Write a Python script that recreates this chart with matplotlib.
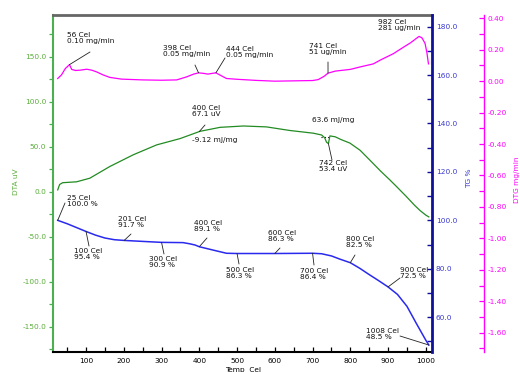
import numpy as np
import matplotlib
matplotlib.use("Agg")
import matplotlib.pyplot as plt
from matplotlib.ticker import MultipleLocator, FormatStrFormatter, FuncFormatter

# ---------------- data ----------------
dta_t = [25, 30, 38, 75, 110, 163, 225, 287, 349, 402, 455, 517, 578, 640, 702, 724,
         732, 737, 742, 746, 760, 775, 799, 826, 852, 880, 905, 923, 949, 970, 985, 1000, 1008]
dta_v = [2, 8, 10, 11, 15, 28, 41, 52, 59, 67.1, 71.5, 73, 72, 68, 65, 63,
         60, 55, 53.4, 62, 61, 58, 54, 46, 35, 23, 13, 5.5, -5.6, -15, -21, -26, -28]

tg_t = [25, 50, 75, 100, 125, 150, 175, 201, 250, 300, 357, 375, 389, 400, 437, 472,
        500, 600, 700, 724, 750, 772, 800, 825, 850, 875, 900, 925, 950, 975, 1000, 1008]
tg_v = [100, 98.6, 97.0, 95.4, 93.9, 92.7, 92.0, 91.7, 91.3, 90.9, 90.8, 90.3, 89.8, 89.1, 87.7, 86.4,
        86.3, 86.3, 86.4, 86.2, 85.3, 84.0, 82.5, 80.2, 77.6, 75.1, 72.5, 69.4, 64.5, 57.4, 50.5, 48.5]

dtg_t = [25, 35, 45, 56, 62, 72, 84, 102, 115, 128, 145, 163, 194, 250, 300, 340, 366,
         385, 398, 410, 423, 435, 444, 458, 472, 500, 550, 600, 650, 700, 715, 730, 741,
         760, 800, 825, 861, 880, 914, 940, 960, 982, 990, 998, 1003, 1007]
dtg_v = [0.017, 0.04, 0.08, 0.105, 0.075, 0.068, 0.07, 0.076, 0.07, 0.059, 0.04, 0.024, 0.013,
         0.008, 0.006, 0.008, 0.027, 0.045, 0.053, 0.05, 0.045, 0.05, 0.053, 0.035, 0.017,
         0.012, 0.005, 0.0, 0.002, 0.004, 0.01, 0.03, 0.051, 0.064, 0.075, 0.09, 0.11, 0.135,
         0.175, 0.215, 0.245, 0.285, 0.275, 0.24, 0.18, 0.11]

# annotation labels (temperature, value)
tg_marks = [(25, 100.0), (100, 95.4), (201, 91.7), (300, 90.9), (400, 89.1), (500, 86.3),
            (600, 86.3), (700, 86.4), (800, 82.5), (900, 72.5), (1008, 48.5)]
dtg_marks = [(56, 0.10, "0.10 mg/min"), (398, 0.05, "0.05 mg/min"), (444, 0.05, "0.05 mg/min"),
             (741, 0.051, "51 ug/min"), (982, 0.281, "281 ug/min")]
dta_marks = [(400, 67.1, "67.1 uV"), (742, 53.4, "53.4 uV")]

# ---------------- style ----------------
W, H = 520, 372
FS = 5.3
GREEN_L = "#228b22"
GREEN_T = "#5aae3a"
GREEN_S = "#4caf50"
BLUE_L = "#2a2aee"
BLUE_T = "#3a3ad0"
BLUE_S = "#10109a"
MAG = "#ff00ff"

plt.rcParams['font.family'] = ['DejaVu Sans']
fig = plt.figure(figsize=(W / 100, H / 100), dpi=100)
L, R, T, B = 52.7, 431.7, 15, 352.3
ax = fig.add_axes([L / W, 1 - B / H, (R - L) / W, (B - T) / H])
ax2 = ax.twinx()
ax3 = ax.twinx()

ax.set_xlim(11.7, 1015.6)
ax.set_ylim(-178.4, 196.3)
ax2.set_ylim(45.5, 184.8)
ax3.set_ylim(-1.725, 0.421)

ax.plot(dta_t, dta_v, color=GREEN_L, lw=0.9, zorder=3)
ax2.plot(tg_t, tg_v, color=BLUE_L, lw=1.1, zorder=3)
ax3.plot(dtg_t, dtg_v, color=MAG, lw=0.9, zorder=3)

# small dotted baseline at DTA peak
bx = np.array([722, 748])
ax.plot(bx, np.full(2, np.interp(722, dta_t, dta_v) - 2),
        ls=(0, (1, 2)), color='k', lw=0.8)

# spines
ax.spines['right'].set_visible(False)
ax.spines['left'].set_color(GREEN_S); ax.spines['left'].set_linewidth(1.5)
ax.spines['top'].set_color('#666666'); ax.spines['top'].set_linewidth(2)
ax.spines['bottom'].set_color('black'); ax.spines['bottom'].set_linewidth(1.5)
for a in (ax2, ax3):
    for s in ['left', 'top', 'bottom']:
        a.spines[s].set_visible(False)
ax2.spines['right'].set_color(BLUE_S); ax2.spines['right'].set_linewidth(2)
ax3.spines['right'].set_position(('axes', (484 - L) / (R - L)))
ax3.spines['right'].set_color(MAG); ax3.spines['right'].set_linewidth(1)

# ticks
ax.xaxis.set_minor_locator(MultipleLocator(50))
ax.set_xticks([100, 200, 300, 400, 500, 600, 700, 800, 900, 1000])
ax.tick_params(axis='x', which='both', direction='in', length=3.5, width=0.9,
               labelsize=FS, pad=4, colors='black')
ax.yaxis.set_major_locator(MultipleLocator(50))
ax.yaxis.set_minor_locator(MultipleLocator(25))
ax.yaxis.set_major_formatter(FormatStrFormatter('%.1f'))
ax.tick_params(axis='y', which='both', direction='out', length=3, width=0.9,
               labelsize=FS, pad=1.5, color=GREEN_S, labelcolor=GREEN_T)

ax2.set_yticks([60, 80, 100, 120, 140, 160, 180])
ax2.yaxis.set_minor_locator(MultipleLocator(10))
ax2.yaxis.set_major_formatter(FormatStrFormatter('%.1f'))
ax2.tick_params(axis='y', which='both', direction='in', length=3.5, width=1,
                labelsize=FS, pad=3, color=BLUE_S, labelcolor=BLUE_T)

ax3.set_yticks(np.round(np.arange(-1.6, 0.41, 0.2), 2))
ax3.yaxis.set_minor_locator(MultipleLocator(0.1))
ax3.yaxis.set_major_formatter(FuncFormatter(lambda v, p: f"{(0.0 if abs(v) < 1e-9 else v):.2f}"))
ax3.tick_params(axis='y', which='both', direction='in', length=3.5, width=0.9,
                labelsize=FS, pad=2.5, color=MAG, labelcolor=MAG)

# axis labels
fig.text(16 / W, 1 - 182 / H, "DTA uV", rotation=90, color=GREEN_T, fontsize=FS,
         ha='center', va='center')
fig.text(469 / W, 1 - 178 / H, "TG %", rotation=90, color=BLUE_T, fontsize=FS,
         ha='center', va='center')
fig.text(517 / W, 1 - 180 / H, "DTG mg/min", rotation=90, color=MAG, fontsize=FS,
         ha='center', va='center')
fig.text(243 / W, 1 - 370 / H, "Temp  Cel", color='black', fontsize=FS,
         ha='center', va='center')


def note(axis, x, y, text, tx, ty, lx=None, ly=None):
    fig.text(tx / W, 1 - ty / H, text, fontsize=FS, ha='left', va='top',
             linespacing=1.05, color='#111111')
    if lx is not None:
        axis.annotate('', xy=(x, y), xycoords='data', xytext=(lx, H - ly),
                      textcoords='figure pixels',
                      arrowprops=dict(arrowstyle='-', color='#222222', lw=0.6,
                                      shrinkA=0, shrinkB=0))


# TG annotations: (text top-left px, line end px)
tg_layout = [((66.7, 195), (65, 203)), ((74, 248), (89, 246)), ((118, 216), (131, 234)),
             ((149, 256), (164, 254)), ((194, 220), (207, 238)), ((225.5, 267), (239, 264)),
             ((268, 230), (280, 248)), ((300, 268), (314, 265)), ((346.5, 236), (355, 255)),
             ((400, 267), (400, 278)), ((366, 328), (400, 336))]
for (t, v), ((tx, ty), (lx, ly)) in zip(tg_marks, tg_layout):
    note(ax2, t, np.interp(t, tg_t, tg_v), f"{t} Cel\n{v:.1f} %", tx, ty, lx, ly)

dtg_layout = [((67, 32), (90, 52)), ((163, 45), (195, 65)), ((226.5, 46), (225, 58)),
              ((309, 43), (328, 62)), ((378, 19), None)]
for (t, v, lab), ((tx, ty), le) in zip(dtg_marks, dtg_layout):
    if le is None:
        note(ax3, t, v, f"{t} Cel\n{lab}", tx, ty)
    else:
        note(ax3, t, np.interp(t, dtg_t, dtg_v), f"{t} Cel\n{lab}", tx, ty, le[0], le[1])

dta_layout = [((192.5, 105), (205, 125)), ((319, 160), (332, 160))]
for (t, v, lab), ((tx, ty), (lx, ly)) in zip(dta_marks, dta_layout):
    note(ax, t, np.interp(t, dta_t, dta_v), f"{t} Cel\n{lab}", tx, ty, lx, ly)

fig.text(192.5 / W, 1 - 137 / H, "-9.12 mJ/mg", fontsize=FS, ha='left', va='top', color='#111111')
fig.text(312.5 / W, 1 - 117 / H, "63.6 mJ/mg", fontsize=FS, ha='left', va='top', color='#111111')

fig.savefig("out.png", dpi=100)
